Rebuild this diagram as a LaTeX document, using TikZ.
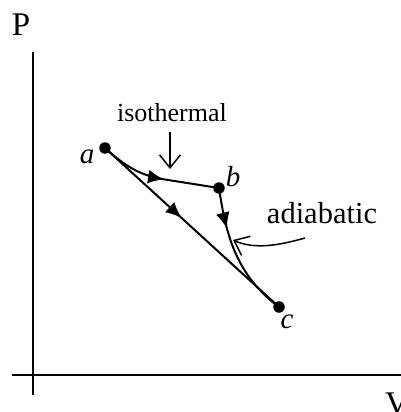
\documentclass[tikz,border=0pt]{standalone}
\usepackage{fontspec}
\setmainfont{Liberation Serif}
\usetikzlibrary{arrows.meta,decorations.markings}
\begin{document}
\begin{tikzpicture}[x=1pt,y=-1pt,
  ln/.style={line width=2pt, line cap=round, line join=round},
  axis/.style={line width=2pt},
  dot/.style={circle, fill=black, inner sep=0pt, minimum size=11.5pt},
  pt/.style={font=\fontsize{29}{29}\selectfont\itshape, inner sep=0pt},
  midarrow/.style={postaction={decorate, decoration={markings,
      mark=at position #1 with {\arrow{Latex[length=16pt,width=14pt]}}}}},
  pointer/.style={line width=1.5pt, -{Straight Barb[length=13pt,width=21pt,line width=1.5pt]}}
]
\useasboundingbox (0,0) rectangle (401,412);
% axes
\coordinate (ytop) at (33,52);
\coordinate (ybot) at (33,395);
\coordinate (xl) at (12,375);
\coordinate (xr) at (405,375);
\draw[axis] (ytop) -- (ybot);
\draw[axis] (xl) -- (xr);
\node[font=\fontsize{33}{33}\selectfont, inner sep=0pt] (P) at (21,25) {P};
\node[font=\fontsize{33}{33}\selectfont, inner sep=0pt, anchor=north west] (V) at (385,393) {V};
% points
\node[dot] (a) at (105,148) {};
\node[dot] (b) at (219,188) {};
\node[dot] (c) at (279,307) {};
\node[pt] (la) at (87,157) {a};
\node[pt] (lb) at (233,177) {b};
\node[pt] (lc) at (287,322) {c};
% paths
\draw[ln, midarrow=0.44] (a.center) -- (c.center);
\draw[ln, midarrow=0.55] (a.center) .. controls (125,166) and (140,176) .. (168,180) -- (b.center);
\draw[ln, midarrow=0.3] (b.center) .. controls (226,235) and (236,275) .. (c.center);
% labels
\node[font=\fontsize{26}{26}\selectfont, inner sep=0pt] (iso) at (172,113) {isothermal};
\coordinate (isoS) at (170,132);
\coordinate (isoE) at (170,169);
\draw[pointer] (isoS) -- (isoE);
\node[font=\fontsize{30.5}{30.5}\selectfont, inner sep=0pt] (adi) at (322,213) {adiabatic};
\coordinate (adiS) at (305,238);
\coordinate (adiE) at (233,240);
\draw[pointer] (adiS) .. controls (280,245) and (255,250) .. (adiE);
\end{tikzpicture}
\end{document}
